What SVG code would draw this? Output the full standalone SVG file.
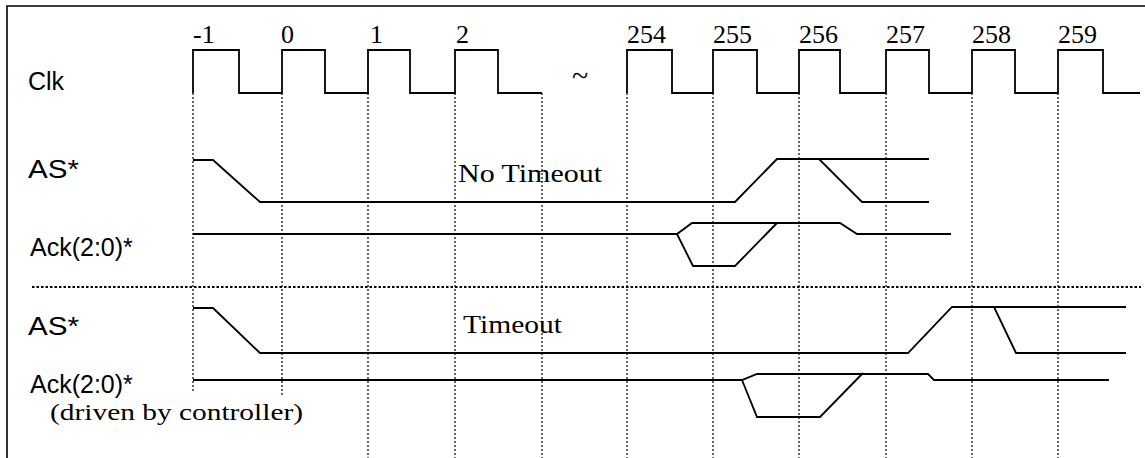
<svg xmlns="http://www.w3.org/2000/svg" width="1145" height="458" viewBox="0 0 1145 458">
<style>
.wave{fill:none;stroke:#000;stroke-width:1.8;stroke-linejoin:miter}
.grid{fill:none;stroke:#000;stroke-width:1.2;stroke-dasharray:2 2}
.sep{fill:none;stroke:#000;stroke-width:2;stroke-dasharray:2.5 2}
.frame{fill:none;stroke:#000;stroke-width:1.6}
.sans{font-family:"Liberation Sans",Arial,sans-serif;font-size:25px;fill:#000}
.serif{font-family:"Liberation Serif","Times New Roman",serif;font-size:26px;fill:#000}
</style>
<rect width="1145" height="458" fill="#fff"/>
<g id="frame">
<path class="frame" d="M7,458 V6 H1145"/>
</g>
<g id="grid">
<path class="grid" d="M193,93 V392 M282,93 V395 M368,93 V458 M455,93 V458 M542,93 V458 M627,93 V458 M713,93 V458 M799,93 V458 M886,93 V458 M972,93 V458 M1058,93 V458"/>
<path class="sep" d="M32,287 H1141"/>
</g>
<g id="labels">
<text class="sans" x="28" y="90">Clk</text>
<text class="sans" x="28" y="178" textLength="51" lengthAdjust="spacingAndGlyphs">AS*</text>
<text class="sans" x="30" y="256">Ack(2:0)*</text>
<text class="sans" x="28" y="335" textLength="51" lengthAdjust="spacingAndGlyphs">AS*</text>
<text class="sans" x="30" y="393">Ack(2:0)*</text>
<text class="serif" x="50" y="420" style="font-size:23px" textLength="253" lengthAdjust="spacingAndGlyphs">(driven by controller)</text>
<text class="serif" x="458" y="182" textLength="144" lengthAdjust="spacingAndGlyphs">No Timeout</text>
<text class="serif" x="463" y="333" textLength="99" lengthAdjust="spacingAndGlyphs">Timeout</text>
</g>
<g id="cycle-numbers">
<text class="serif" x="193" y="43">-1</text>
<text class="serif" x="281" y="43">0</text>
<text class="serif" x="370" y="43">1</text>
<text class="serif" x="456" y="43">2</text>
<text class="serif" x="627" y="43">254</text>
<text class="serif" x="713" y="43">255</text>
<text class="serif" x="799" y="43">256</text>
<text class="serif" x="886" y="43">257</text>
<text class="serif" x="972" y="43">258</text>
<text class="serif" x="1058" y="43">259</text>
<text class="serif" x="580" y="86" text-anchor="middle" style="font-size:30px">~</text>
</g>
<g id="clk">
<path class="wave" d="M193,93 V50 H239 V93 H282 V50 H325 V93 H368 V50 H410 V93 H455 V50 H498 V93 H542"/>
<path class="wave" d="M627,93 V50 H672 V93 H713 V50 H757 V93 H799 V50 H840 V93 H886 V50 H929 V93 H972 V50 H1015 V93 H1058 V50 H1103 V93 H1140"/>
</g>
<g id="as-no-timeout">
<path class="wave" d="M193,160 H213 L260,202 H735 L777,159 H929 M819,159 L862,202 H929"/>
</g>
<g id="ack-no-timeout">
<path class="wave" d="M193,234 H677 L692,223 H840 L857,234 H951 M677,234 L693,266 H735 L777,223"/>
</g>
<g id="as-timeout">
<path class="wave" d="M193,308 H213 L260,353 H908 L952,307 H1126 M994,307 L1016,353 H1126"/>
</g>
<g id="ack-timeout">
<path class="wave" d="M193,380 H742 L757,374 H928 L934,380 H1109 M742,380 L757,417 H820 L863,373"/>
</g>
</svg>
